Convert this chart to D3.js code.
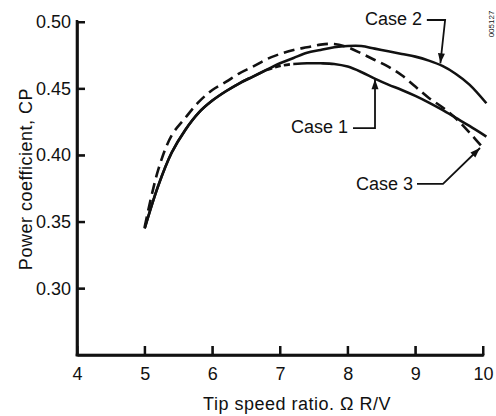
<!DOCTYPE html>
<html>
<head>
<meta charset="utf-8">
<script src="https://cdn.jsdelivr.net/npm/d3@7"></script>
<style>
  body { margin: 0; background: #fff; overflow: hidden; }
  svg { display: block; }
  text { font-family: 'Liberation Sans', Arial, sans-serif; fill: #111; }
</style>
</head>
<body>
<div id="chart"></div>
<script>
// data
const tsr = [5.0, 5.2, 5.4, 5.6, 5.8, 6.0, 6.2, 6.4, 6.6, 6.8, 7.0, 7.2, 7.4, 7.6, 7.8, 8.0, 8.2, 8.4, 8.6, 8.8, 9.0, 9.2, 9.4, 9.6, 9.8, 10.05];
const case1 = [0.345, 0.377, 0.402, 0.419, 0.432, 0.441, 0.448, 0.454, 0.459, 0.464, 0.467, 0.4685, 0.469, 0.469, 0.4685, 0.4665, 0.4625, 0.4575, 0.453, 0.449, 0.4445, 0.4395, 0.434, 0.428, 0.422, 0.414];
const case2 = [0.345, 0.377, 0.402, 0.419, 0.432, 0.441, 0.448, 0.454, 0.459, 0.464, 0.469, 0.473, 0.477, 0.479, 0.481, 0.482, 0.482, 0.480, 0.478, 0.476, 0.474, 0.471, 0.467, 0.461, 0.453, 0.439];
const tsr3 = [5.0, 5.2, 5.4, 5.6, 5.8, 6.0, 6.2, 6.4, 6.6, 6.8, 7.0, 7.2, 7.4, 7.6, 7.8, 8.0, 8.2, 8.4, 8.6, 8.8, 9.0, 9.2, 9.4, 9.6, 9.8, 10.0];
const case3 = [0.346, 0.389, 0.415, 0.428, 0.440, 0.449, 0.455, 0.4615, 0.4665, 0.472, 0.476, 0.479, 0.481, 0.483, 0.4835, 0.481, 0.4765, 0.4715, 0.4665, 0.460, 0.4515, 0.443, 0.436, 0.4275, 0.417, 0.4055];
const xTicks = [4, 5, 6, 7, 8, 9, 10];
const yTicks = [0.30, 0.35, 0.40, 0.45, 0.50];
const caseNames = ['Case 1', 'Case 2', 'Case 3'];

// svg container
const width = 496;
const height = 416;
const margin = { top: 22, right: 13, bottom: 61, left: 77 };

const svg = d3.select('#chart').append('svg')
    .attr('width', width)
    .attr('height', height);

const x = d3.scaleLinear()
    .domain([4, 10])
    .range([margin.left, width - margin.right]);

const y = d3.scaleLinear()
    .domain([0.25, 0.50])
    .range([height - margin.bottom, margin.top]);

// axes, ticks pointing inwards
const xAxis_g = svg.append('g')
    .attr('transform', `translate(0, ${y(0.25)})`)
    .call(d3.axisBottom(x).tickValues(xTicks).tickSizeInner(-9).tickSizeOuter(0).tickFormat(d3.format('d')));
xAxis_g.select('.domain').attr('stroke', '#111').attr('stroke-width', 2.6);
xAxis_g.selectAll('.tick line').attr('stroke', '#111').attr('stroke-width', 2);
xAxis_g.selectAll('.tick text')
    .attr('y', 12)
    .attr('dy', '0.71em')
    .style('font-size', '18px');

const yAxis_g = svg.append('g')
    .attr('transform', `translate(${x(4)}, 0)`)
    .call(d3.axisLeft(y).tickValues(yTicks).tickSizeInner(-8).tickSizeOuter(0).tickFormat(d3.format('.2f')));
yAxis_g.select('.domain').attr('stroke', '#111').attr('stroke-width', 2.6);
yAxis_g.selectAll('.tick line').attr('stroke', '#111').attr('stroke-width', 2);
yAxis_g.selectAll('.tick text')
    .attr('x', -6)
    .style('font-size', '18px');

// axis frame and tick marks as filled rects from the same scales
const frame = svg.append('g').attr('fill', '#111');
frame.append('rect')
    .attr('x', x(4) - 1.3).attr('y', y(0.50) - 2)
    .attr('width', 2.6).attr('height', y(0.25) - y(0.50) + 3.3);
frame.append('rect')
    .attr('x', x(4) - 1.3).attr('y', y(0.25) - 1.3)
    .attr('width', x(10) - x(4) + 2.6).attr('height', 2.6);
frame.selectAll('rect.xt')
    .data(xTicks)
    .join('rect')
    .attr('class', 'xt')
    .attr('x', d => x(d) - 1)
    .attr('y', y(0.25) - 9)
    .attr('width', 2)
    .attr('height', 9);
frame.selectAll('rect.yt')
    .data(yTicks)
    .join('rect')
    .attr('class', 'yt')
    .attr('x', x(4))
    .attr('y', d => y(d) - 1)
    .attr('width', 8)
    .attr('height', 2);

// curves
const curveLine = d3.line()
    .x(d => x(d[0]))
    .y(d => y(d[1]))
    .curve(d3.curveCatmullRom);

const pts1 = tsr.map((t, i) => [t, case1[i]]);
const pts2 = tsr.map((t, i) => [t, case2[i]]);
const pts3 = tsr3.map((t, i) => [t, case3[i]]);

const curves = svg.append('g')
    .attr('fill', 'none')
    .attr('stroke', '#111')
    .attr('stroke-width', 2.6);

curves.append('path').attr('d', curveLine(pts2));
curves.append('path').attr('d', curveLine(pts1.filter(d => d[0] <= 6.8)));
curves.append('path').attr('d', curveLine(pts1.filter(d => d[0] >= 6.8 && d[0] <= 7.2))).attr('stroke-dasharray', '6,3');
curves.append('path').attr('d', curveLine(pts1.filter(d => d[0] >= 7.2)));
curves.append('path').attr('d', curveLine(pts3)).attr('stroke-dasharray', '11,6');

// case labels with leader arrows (data coordinates)
const notes = [
    { label: caseNames[0], at: [8.005, 0.4167], path: [[8.079, 0.4204], [8.404, 0.4204], [8.404, 0.4570]] },
    { label: caseNames[1], at: [9.10, 0.4977], path: [[9.17, 0.5015], [9.44, 0.5015], [9.37, 0.4690]] },
    { label: caseNames[2], at: [8.966, 0.3739], path: [[9.025, 0.3784], [9.409, 0.3784], [9.956, 0.4054]] }
];

const noteLine = d3.line().x(d => x(d[0])).y(d => y(d[1]));

notes.forEach(n => {
    svg.append('text')
        .attr('x', x(n.at[0]))
        .attr('y', y(n.at[1]))
        .attr('text-anchor', 'end')
        .style('font-size', '18px')
        .text(n.label);
    svg.append('path')
        .attr('d', noteLine(n.path))
        .attr('fill', 'none')
        .attr('stroke', '#111')
        .attr('stroke-width', 1.8);

    // arrowhead triangle at the tip
    const tip = n.path[n.path.length - 1];
    const prev = n.path[n.path.length - 2];
    const tx = x(tip[0]), ty = y(tip[1]);
    const dx = tx - x(prev[0]), dy = ty - y(prev[1]);
    const len = Math.hypot(dx, dy);
    const ux = dx / len, uy = dy / len;
    svg.append('path')
        .attr('d', `M${tx},${ty}L${tx - 10 * ux - 3.5 * uy},${ty - 10 * uy + 3.5 * ux}L${tx - 10 * ux + 3.5 * uy},${ty - 10 * uy - 3.5 * ux}Z`)
        .attr('fill', '#111');
});

// axis titles
svg.append('text')
    .attr('x', 297)
    .attr('y', 410)
    .attr('text-anchor', 'middle')
    .style('font-size', '18px')
    .style('letter-spacing', '0.5px')
    .text('Tip speed ratio. Ω R/V');

svg.append('text')
    .attr('transform', 'translate(32, 179) rotate(-90)')
    .attr('text-anchor', 'middle')
    .style('font-size', '18px')
    .style('letter-spacing', '0.5px')
    .text('Power coefficient, CP');

// figure number
svg.append('text')
    .attr('transform', 'translate(494, 24) rotate(-90)')
    .attr('text-anchor', 'middle')
    .style('font-size', '8px')
    .text('005127');
</script>
</body>
</html>
